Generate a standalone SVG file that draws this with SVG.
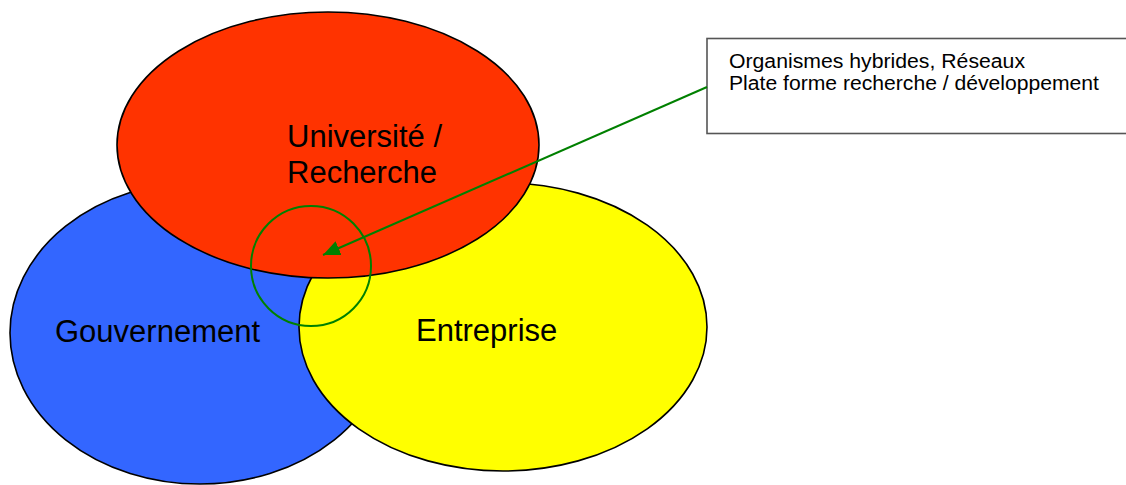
<svg xmlns="http://www.w3.org/2000/svg" width="1126" height="485" viewBox="0 0 1126 485">
<style>
.set{stroke:#000;stroke-width:1.6}
.big{font-family:"Liberation Sans",Arial,sans-serif;font-size:31px;fill:#000}
.small{font-family:"Liberation Sans",Arial,sans-serif;font-size:20px;fill:#000}
.conn{stroke:#008000;stroke-width:2;fill:none}
</style>
<defs>
<marker id="ah" markerUnits="userSpaceOnUse" markerWidth="18" markerHeight="16" refX="17" refY="7.5" orient="auto">
<path d="M0,0 L17,7.5 L0,15 z" fill="#008000"/>
</marker>
</defs>
<rect width="1126" height="485" fill="#fff"/>
<g id="gouvernement">
<ellipse class="set" cx="200" cy="333" rx="190" ry="151" fill="#3366FF"/>
<text class="big" x="55" y="342">Gouvernement</text>
</g>
<g id="entreprise">
<ellipse class="set" cx="503" cy="327" rx="204" ry="144" fill="#FFFF00"/>
<text class="big" x="416" y="341">Entreprise</text>
</g>
<g id="universite">
<ellipse class="set" cx="328" cy="145" rx="211" ry="133" fill="#FF3300"/>
<text class="big" x="287" y="147">Université /</text>
<text class="big" x="287" y="183">Recherche</text>
</g>
<g id="hybride">
<circle cx="311" cy="266" r="60" fill="none" stroke="#008000" stroke-width="2"/>
</g>
<g id="note">
<rect x="707" y="38.5" width="430" height="95" fill="#fff" stroke="#555" stroke-width="1.6"/>
<text class="small" x="729" y="68" textLength="296" lengthAdjust="spacingAndGlyphs">Organismes hybrides, Réseaux</text>
<text class="small" x="729" y="90" textLength="370" lengthAdjust="spacingAndGlyphs">Plate forme recherche / développement</text>
</g>
<g id="connectors">
<line class="conn" x1="707" y1="87" x2="323" y2="255" marker-end="url(#ah)"/>
</g>
</svg>
